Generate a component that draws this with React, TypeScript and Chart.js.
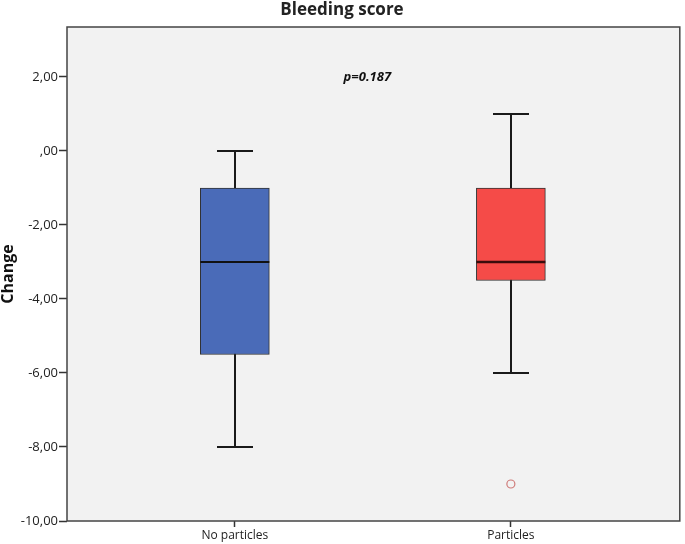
import React, { useEffect, useRef } from "react";
import { Chart, registerables } from "chart.js";

Chart.register(...registerables);

const categories = ["No particles", "Particles"];
const whiskerLow = [-8, -6];
const q1 = [-5.5, -3.5];
const median = [-3, -3];
const q3 = [-1, -1];
const whiskerHigh = [0, 1];
const outlierCategory = [2];
const outlierValues = [-9];
const yTicks = [-10, -8, -6, -4, -2, 0, 2];
const boxColors = ["#4a6bb8", "#f54b48"];
const medianColors = ["#111111", "#3a0c0c"];
const pValueLabel = "p=0.187";
const pValuePos = { x: 1.48, y: 2 };

const fmt = (v: number) => {
  if (v === 0) return ",00";
  return v.toFixed(2).replace(".", ",");
};

const boxPlugin = {
  id: "boxExtras",
  beforeDraw(chart: any) {
    const { ctx, chartArea } = chart;
    ctx.save();
    ctx.fillStyle = "#f2f2f2";
    ctx.fillRect(chartArea.left, chartArea.top, chartArea.right - chartArea.left, chartArea.bottom - chartArea.top);
    ctx.restore();
  },
  beforeDatasetsDraw(chart: any) {
    const { ctx } = chart;
    const xs = chart.scales.x;
    const ys = chart.scales.y;
    ctx.save();
    ctx.strokeStyle = "#1a1a1a";
    ctx.lineWidth = 2;
    categories.forEach((_, i) => {
      const cx = Math.round(xs.getPixelForValue(i + 1));
      const yl = ys.getPixelForValue(whiskerLow[i]);
      const yh = ys.getPixelForValue(whiskerHigh[i]);
      ctx.beginPath();
      ctx.moveTo(cx, yl);
      ctx.lineTo(cx, yh);
      ctx.stroke();
      const half = 18;
      ctx.beginPath();
      ctx.moveTo(cx - half, Math.round(yl));
      ctx.lineTo(cx + half, Math.round(yl));
      ctx.moveTo(cx - half, Math.round(yh));
      ctx.lineTo(cx + half, Math.round(yh));
      ctx.stroke();
    });
    ctx.restore();
  },
  afterDatasetsDraw(chart: any) {
    const { ctx } = chart;
    const xs = chart.scales.x;
    const ys = chart.scales.y;
    ctx.save();
    categories.forEach((_, i) => {
      const cx = xs.getPixelForValue(i + 1);
      const ym = Math.round(ys.getPixelForValue(median[i]));
      ctx.strokeStyle = medianColors[i];
      ctx.lineWidth = i === 1 ? 2.5 : 2;
      ctx.beginPath();
      ctx.moveTo(cx - 34.5, ym);
      ctx.lineTo(cx + 34.5, ym);
      ctx.stroke();
    });
    ctx.fillStyle = "#111";
    ctx.font = "italic bold 13px 'Open Sans'";
    ctx.textAlign = "center";
    ctx.textBaseline = "middle";
    ctx.fillText(pValueLabel, xs.getPixelForValue(pValuePos.x), ys.getPixelForValue(pValuePos.y));
    ctx.restore();
  },
  afterDraw(chart: any) {
    const { ctx, chartArea } = chart;
    ctx.save();
    ctx.strokeStyle = "#444";
    ctx.lineWidth = 1.5;
    ctx.strokeRect(chartArea.left, chartArea.top, chartArea.right - chartArea.left, chartArea.bottom - chartArea.top);
    ctx.restore();
  },
};

export default function App() {
  const ref = useRef<HTMLCanvasElement>(null);
  useEffect(() => {
    if (!ref.current) return;
    Chart.defaults.font.family = "'Open Sans'";
    Chart.defaults.color = "#222";
    const chart = new Chart(ref.current, {
      type: "bar",
      data: {
        datasets: [
          {
            type: "bar",
            data: categories.map((_, i) => ({ x: i + 1, y: [q1[i], q3[i]] })) as any,
            backgroundColor: boxColors,
            borderColor: "#333",
            borderWidth: 1,
            borderSkipped: false,
            barThickness: 69,
          } as any,
          {
            type: "scatter",
            data: outlierValues.map((v, i) => ({ x: outlierCategory[i], y: v })),
            pointRadius: 4,
            pointBackgroundColor: "rgba(0,0,0,0)",
            pointBorderColor: "#cf7a78",
            pointBorderWidth: 1.2,
          } as any,
        ],
      },
      options: {
        animation: false,
        responsive: true,
        maintainAspectRatio: false,
        layout: { padding: { left: 0, right: 1, top: 0, bottom: 0 } },
        plugins: {
          legend: { display: false },
          tooltip: { enabled: false },
          title: {
            display: true,
            text: "Bleeding score",
            color: "#222",
            font: { size: 17, weight: "bold", family: "'Open Sans'", lineHeight: 1.2 },
            padding: { top: 0, bottom: 6.6 },
          },
        },
        scales: {
          x: {
            type: "linear",
            min: 0.392,
            max: 2.612,
            offset: false,
            afterBuildTicks: (axis: any) => {
              axis.ticks = categories.map((_, i) => ({ value: i + 1 }));
            },
            afterFit: (s: any) => {
              s.height = 23;
              s.paddingLeft = 0;
              s.paddingRight = 0;
            },
            ticks: {
              callback: (v: any) => categories[Math.round(Number(v)) - 1] ?? "",
              font: { size: 12 },
              color: "#222",
              padding: 1,
              maxRotation: 0,
            },
            grid: {
              drawOnChartArea: false,
              drawTicks: true,
              tickLength: 6,
              tickColor: "#333",
              tickWidth: 1.5,
              offset: false,
            },
            border: { display: false },
          },
          y: {
            type: "linear",
            min: -10,
            max: 3.35,
            afterBuildTicks: (axis: any) => {
              axis.ticks = yTicks.map((v) => ({ value: v }));
            },
            afterFit: (s: any) => {
              s.width = 67;
              s.paddingTop = 0;
              s.paddingBottom = 0;
            },
            ticks: {
              callback: (v: any) => fmt(Number(v)),
              font: { size: 13 },
              color: "#222",
              padding: 1,
            },
            grid: {
              drawOnChartArea: false,
              drawTicks: true,
              tickLength: 8,
              tickColor: "#333",
              tickWidth: 1.5,
            },
            border: { display: false },
            title: {
              display: true,
              text: "Change",
              color: "#111",
              font: { size: 16, weight: "bold", lineHeight: 1 },
              padding: 0,
            },
          },
        },
      },
      plugins: [boxPlugin],
    });
    return () => chart.destroy();
  }, []);
  return (
    <div style={{ position: "fixed", left: 0, top: 0, width: 685, height: 544, background: "#fff" }}>
      <canvas ref={ref} />
    </div>
  );
}
